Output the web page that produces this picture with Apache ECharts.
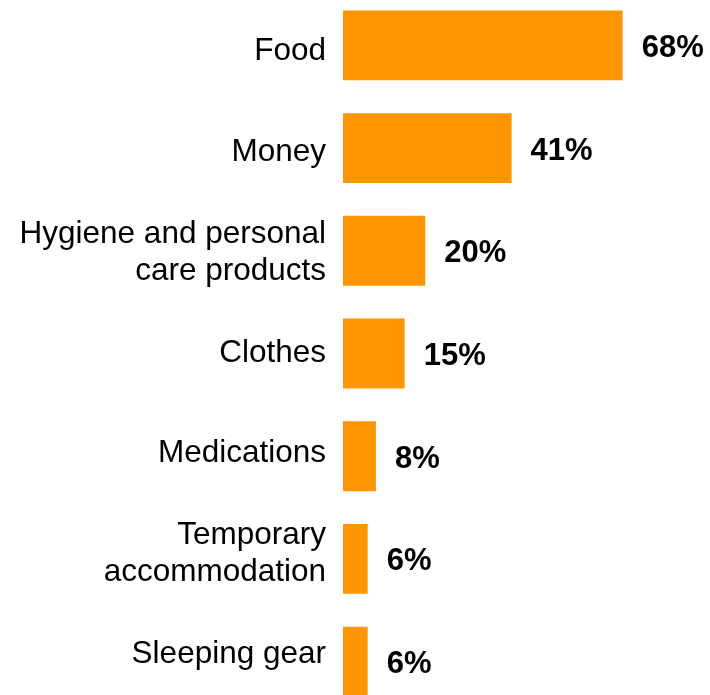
<!DOCTYPE html>
<html>
<head>
<meta charset="utf-8">
<script src="https://cdn.jsdelivr.net/npm/echarts@6/dist/echarts.min.js"></script>
<style>
  html, body { margin: 0; padding: 0; background: #ffffff; overflow: hidden; width: 710px; height: 695px; }
  #chart { position: absolute; left: 0; top: -6px; width: 710px; height: 719px; }
</style>
</head>
<body>
<div id="chart"></div>
<script>
// Categories, top to bottom
const categories = [
  'Food',
  'Money',
  'Hygiene and personal\ncare products',
  'Clothes',
  'Medications',
  'Temporary\naccommodation',
  'Sleeping gear'
];
// Share of respondents, percent
const values = [68, 41, 20, 15, 8, 6, 6];

const chart = echarts.init(document.getElementById('chart'));
chart.setOption({
  animation: false,
  // grid 0 holds the bars; grid 1 carries the category names on a slightly tighter spacing
  grid: [
    { left: 343, right: 38, top: 0, bottom: 0, containLabel: false },
    { left: 343, right: 38, top: 7.3, bottom: 8.4, containLabel: false }
  ],
  xAxis: [
    { type: 'value', gridIndex: 0, min: 0, max: 80, show: false },
    { type: 'value', gridIndex: 1, min: 0, max: 80, show: false }
  ],
  yAxis: [
    {
      type: 'category',
      gridIndex: 0,
      inverse: true,
      data: categories,
      axisLine: { show: false },
      axisTick: { show: false },
      axisLabel: { show: false }
    },
    {
      type: 'category',
      gridIndex: 1,
      inverse: true,
      data: categories,
      axisLine: { show: false },
      axisTick: { show: false },
      axisLabel: {
        margin: 17,
        align: 'right',
        color: '#000000',
        fontFamily: 'Liberation Sans, Arial, sans-serif',
        fontSize: 31.5,
        lineHeight: 37
      }
    }
  ],
  series: [{
    type: 'bar',
    xAxisIndex: 0,
    yAxisIndex: 0,
    data: values,
    barCategoryGap: '32%',
    itemStyle: { color: '#FF9500' },
    label: {
      show: true,
      position: 'right',
      distance: 19,
      formatter: '{c}%',
      color: '#000000',
      fontFamily: 'Liberation Sans, Arial, sans-serif',
      fontWeight: 'bold',
      fontSize: 31,
      offset: [0, 3]
    }
  }]
});
</script>
</body>
</html>
